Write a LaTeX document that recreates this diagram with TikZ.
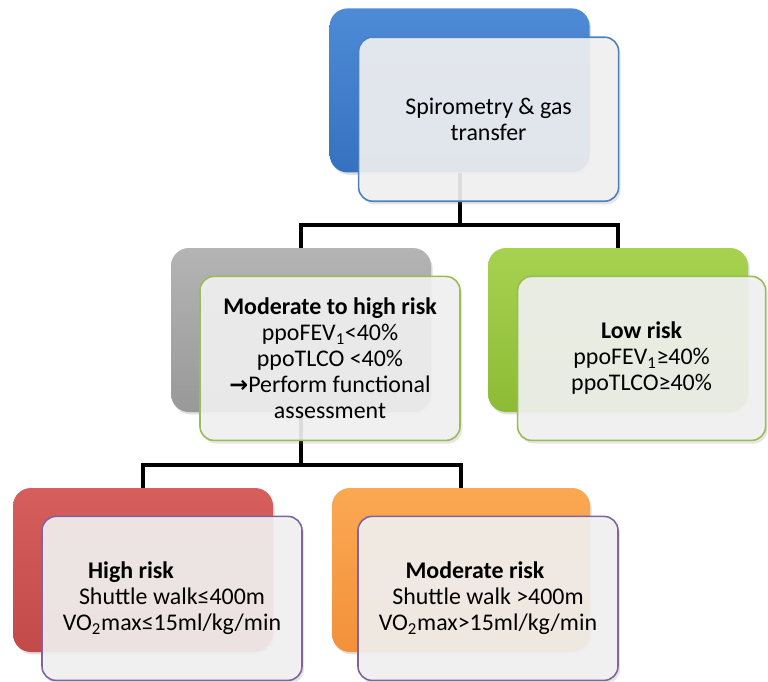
\documentclass[tikz,border=0pt]{standalone}
\usepackage{xcolor}
\usepackage{fontspec}
\setmainfont{Carlito}
\newfontfamily\symfont{DejaVu Sans}
\usepackage{tikz}
\usetikzlibrary{shapes,shadows,positioning}

\definecolor{blueTop}{HTML}{4E8BD6}
\definecolor{blueBot}{HTML}{3671C0}
\definecolor{blueLine}{HTML}{4F81BD}
\definecolor{grayTop}{HTML}{B4B4B4}
\definecolor{grayBot}{HTML}{999999}
\definecolor{greenTop}{HTML}{A6D250}
\definecolor{greenBot}{HTML}{8EBB36}
\definecolor{greenLine}{HTML}{9BBB59}
\definecolor{redTop}{HTML}{D65E5C}
\definecolor{redBot}{HTML}{C24B49}
\definecolor{orangeTop}{HTML}{FBA853}
\definecolor{orangeBot}{HTML}{F3913A}
\definecolor{purpleLine}{HTML}{8064A2}

\tikzset{
    backbox/.style={
        rectangle,
        rounded corners=0.45cm,
        minimum width=6.5cm,
        minimum height=4.1cm,
        drop shadow={opacity=0.25,shadow xshift=0.04cm,shadow yshift=-0.06cm}
    },
    frontbox/.style={
        rectangle,
        rounded corners=0.35cm,
        minimum width=6.5cm,
        minimum height=4.1cm,
        line width=0.4mm,
        fill=white!95!black,
        fill opacity=0.9,
        text opacity=1,
        align=center,
        font=\fontsize{17}{18.5}\selectfont,
        drop shadow={opacity=0.2,shadow xshift=0.05cm,shadow yshift=-0.08cm}
    },
    link/.style={
        line width=1mm
    }
}

\begin{document}
\begin{tikzpicture}
                \useasboundingbox (0,0) rectangle (19.2,-17.025);

                % back boxes
                \node[backbox, top color=blueTop, bottom color=blueBot] (spiro) at (11.49,-2.26) {};
                \node[backbox, top color=grayTop, bottom color=grayBot] (modhigh) at (7.525,-8.25) {};
                \node[backbox, top color=greenTop, bottom color=greenBot] (low) at (15.45,-8.25) {};
                \node[backbox, top color=redTop, bottom color=redBot] (high) at (3.575,-14.25) {};
                \node[backbox, top color=orangeTop, bottom color=orangeBot, minimum width=6.45cm] (moderate) at (11.525,-14.25) {};

                % connectors
                \draw[link] (spiro.south) -- ++(0,-1.3) coordinate (splitA);
                \draw[link] (splitA) -| (modhigh.north);
                \draw[link] (splitA) -| (low.north);
                \draw[link] (modhigh.south) -- ++(0,-1.325) coordinate (splitB);
                \draw[link] (splitB) -| (high.north);
                \draw[link] (splitB) -| (moderate.north);

                % front boxes
                \node[frontbox, draw=blueLine] (spiroText) at ([shift={(0.725,-0.72)}]spiro.center)
                    {Spirometry \& gas\\transfer};

                \node[frontbox, draw=greenLine] (modhighText) at ([shift={(0.725,-0.71)}]modhigh.center)
                    {\textbf{Moderate to high risk}\\ppoFEV\textsubscript{1}<40\%\\ppoTLCO <40\%\\{\symfont\bfseries\fontsize{16}{18.5}\selectfont→}Perform functional\\assessment};

                \node[frontbox, draw=greenLine, minimum width=6.2cm] (lowText) at ([shift={(0.59,-0.71)}]low.center)
                    {\textbf{Low risk}\\ppoFEV\textsubscript{1}≥40\%\\ppoTLCO≥40\%};

                \node[frontbox, draw=purpleLine] (highText) at ([shift={(0.725,-0.71)}]high.center)
                    {\textbf{High risk}\hspace*{2.05cm}\\Shuttle walk≤400m\\VO\textsubscript{2}max≤15ml/kg/min};

                \node[frontbox, draw=purpleLine] (moderateText) at ([shift={(0.675,-0.71)}]moderate.center)
                    {\textbf{Moderate risk}\hspace*{0.65cm}\\Shuttle walk >400m\\VO\textsubscript{2}max>15ml/kg/min};

            \end{tikzpicture}
\end{document}
